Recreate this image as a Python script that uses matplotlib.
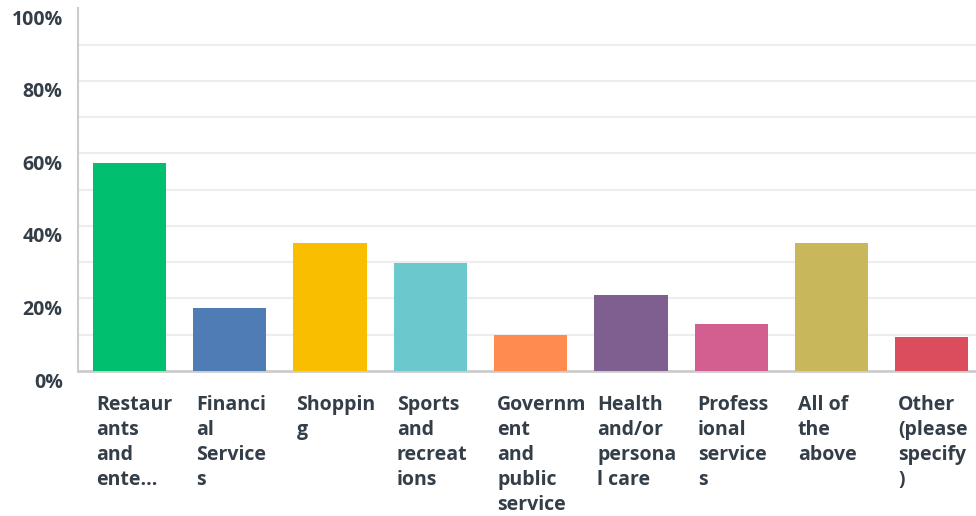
import matplotlib.pyplot as plt
import matplotlib.transforms as mtransforms
import numpy as np

categories = [
    "Restaur\nants\nand\nente...",
    "Financi\nal\nService\ns",
    "Shoppin\ng",
    "Sports\nand\nrecreat\nions",
    "Governm\nent\nand\npublic\nservice",
    "Health\nand/or\npersona\nl care",
    "Profess\nional\nservice\ns",
    "All of\nthe\nabove",
    "Other\n(please\nspecify\n)",
]
values = [57.3, 17.3, 35.2, 29.7, 9.9, 20.9, 12.9, 35.2, 9.3]
colors = ["#00BF6F", "#507CB6", "#F9BE00", "#6BC8CD", "#FF8B4F",
          "#7F5F90", "#D25F90", "#C9B75C", "#DB4D5C"]
ytick_vals = [0, 20, 40, 60, 80, 100]
ytick_labels = ["0%", "20%", "40%", "60%", "80%", "100%"]

text_color = "#333E48"
font = "Open Sans"

fig = plt.figure(figsize=(9.76, 5.16), dpi=100)
W, H = 976, 516
ax = fig.add_axes([78 / W, (H - 371) / H, (W - 78) / W, (371 - 8.3) / H])

x = np.arange(len(values))
bar_w = 0.73
ax.bar(x, values, width=bar_w, color=colors, zorder=3)

# horizontal guide lines every 10%
for g in range(10, 100, 10):
    ax.axhline(g, color="#EDEDED", lw=1.6, zorder=1)

ax.set_ylim(0, 100)
ax.set_xlim(-0.513, 8.44)

ax.set_yticks(ytick_vals)
ax.set_yticklabels(ytick_labels, fontsize=14, color=text_color,
                   fontfamily=font, fontweight="bold")
ax.tick_params(axis="y", length=0, pad=11)
offset = mtransforms.ScaledTranslation(0, -9 / 100, fig.dpi_scale_trans)
for lab in ax.get_yticklabels():
    lab.set_transform(lab.get_transform() + offset)

ax.set_xticks([])

for s in ["top", "right"]:
    ax.spines[s].set_visible(False)
ax.spines["left"].set_color("#CCCCCC")
ax.spines["left"].set_linewidth(1.5)
ax.spines["bottom"].set_color("#CCCCCC")
ax.spines["bottom"].set_linewidth(2)

trans = mtransforms.blended_transform_factory(ax.transData, ax.transAxes)
for xi, lab in zip(x, categories):
    ax.text(xi - bar_w / 2 + 0.03, -24 / 362.7, lab, transform=trans,
            ha="left", va="top", fontsize=14, color=text_color,
            fontfamily=font, fontweight="bold", linespacing=1.33)

fig.savefig("out.png", dpi=100)
